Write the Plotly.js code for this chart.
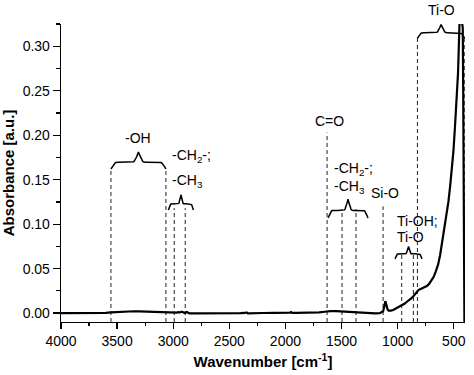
<!DOCTYPE html>
<html>
<head>
<meta charset="utf-8">
<script src="https://cdn.plot.ly/plotly-3.0.1.min.js"></script>
<style>html,body{margin:0;padding:0;background:#fff;}</style>
</head>
<body>
<div id="chart" style="width:474px;height:375px;"></div>
<script>
// Spectrum data (wavenumber in cm^-1, absorbance in a.u.)
const wavenumber = [4000, 3900, 3800, 3700, 3600, 3555, 3500, 3450, 3400, 3350, 3300, 3250, 3200, 3150, 3100, 3050, 3000, 2970, 2955, 2940, 2925, 2910, 2895, 2880, 2870, 2855, 2800, 2700, 2600, 2500, 2400, 2360, 2345, 2335, 2300, 2200, 2100, 2000, 1960, 1950, 1940, 1900, 1800, 1700, 1650, 1620, 1600, 1550, 1500, 1450, 1400, 1350, 1300, 1250, 1200, 1160, 1140, 1130, 1122, 1115, 1110, 1105, 1098, 1090, 1080, 1070, 1060, 1040, 1020, 1000, 980, 960, 940, 920, 900, 880, 860, 845, 830, 815, 800, 780, 760, 740, 720, 700, 680, 660, 640, 622, 607, 590, 575, 562, 548, 533, 518, 503, 489, 475, 462, 455, 449, 425, 420, 416, 412, 408, 405];
const absorbance = [0.0, 0.0, -0.0002, 0.0, 0.0002, 0.0008, 0.0013, 0.0017, 0.002, 0.0021, 0.002, 0.0018, 0.0015, 0.0012, 0.0008, 0.0004, 0.0002, 0.0005, 0.001, 0.0008, 0.0016, 0.0006, 0.0002, 0.0012, 0.0004, -0.0002, -0.0003, -0.0004, -0.0003, -0.0002, 0.0, 0.0002, 0.0008, -0.0002, 0.0, 0.0001, 0.0002, 0.0002, 0.0004, 0.0012, 0.0003, 0.0002, 0.0003, 0.0008, 0.0015, 0.002, 0.0022, 0.0022, 0.0018, 0.0016, 0.0014, 0.0008, 0.0003, 0.0, -0.0002, 0.0, 0.0008, 0.002, 0.006, 0.0115, 0.0135, 0.0115, 0.0075, 0.004, 0.0027, 0.0025, 0.0028, 0.0035, 0.0048, 0.0062, 0.0072, 0.0088, 0.0105, 0.0125, 0.0142, 0.0165, 0.019, 0.0215, 0.024, 0.0258, 0.0268, 0.0278, 0.0292, 0.0305, 0.0328, 0.0362, 0.0405, 0.047, 0.0545, 0.065, 0.077, 0.09, 0.1, 0.11, 0.125, 0.142, 0.16, 0.182, 0.21, 0.24, 0.27, 0.3, 0.326, 0.326, 0.32, 0.25, 0.16, 0.07, -0.012];

// Band markers (dashed vertical lines)
const markerWavenumber = [3555, 3065, 2991, 2893, 1629, 1496, 1371, 1130, 964, 860, 824, 402];
const markerTop = [0.163, 0.163, 0.118, 0.118, 0.203, 0.117, 0.117, 0.12, 0.066, 0.066, 0.31, 0.31];
const markerBottom = -0.01;

// Curly braces grouping bands
const braceFrom = [3555, 3043, 1620, 1024, 824];
const braceTo = [3065, 2820, 1265, 783, 402];
const braceEnd = [0.162, 0.116, 0.107, 0.061, 0.309];
const braceTip = [0.181, 0.133, 0.128, 0.075, 0.3245];

// Band labels
const labelText = ['-OH', '-CH<sub>2</sub>-;', '-CH<sub>3</sub>', 'C=O', '-CH<sub>2</sub>-;', '-CH<sub>3</sub>', 'Si-O', 'Ti-OH;', 'Ti-O', 'Ti-O'];
const labelX = [3312, 3027, 3027, 1611, 1584, 1584, 1112, 1024, 1024, 605];
const labelY = [0.197, 0.177, 0.149, 0.216, 0.162, 0.142, 0.135, 0.104, 0.086, 0.325];
const labelAnchor = ['center', 'left', 'left', 'center', 'left', 'left', 'center', 'left', 'left', 'center'];

// Axis ticks
const xTicks = [4000, 3500, 3000, 2500, 2000, 1500, 1000, 500];
const yTicks = [0.00, 0.05, 0.10, 0.15, 0.20, 0.25, 0.30];

// build dashed line path
const dx = [], dy = [];
markerWavenumber.forEach((w, i) => { dx.push(w, w, null); dy.push(markerBottom, markerTop[i], null); });

// build brace paths
const bx = [], by = [];
for (let i = 0; i < braceFrom.length; i++) {
  const a = braceFrom[i], b = braceTo[i], e = braceEnd[i], h = braceTip[i] - braceEnd[i];
  const mid = e + 0.4 * h;
  const N = 80;
  const c1 = 0.11, c2 = 0.39;
  for (let k = 0; k <= N; k++) {
    const t = k / N;
    const s = t <= 0.5 ? t : 1 - t;
    let y;
    if (s < c1) y = e + 0.4 * h * Math.sin(Math.PI / 2 * s / c1);
    else if (s < c2) y = mid;
    else y = mid + 0.6 * h * (1 - Math.cos(Math.PI / 2 * (s - c2) / (0.5 - c2)));
    bx.push(a + (b - a) * t);
    by.push(y);
  }
  bx.push(null); by.push(null);
}

const font = 'Arial, "Liberation Sans", sans-serif';

const traces = [
  { x: dx, y: dy, mode: 'lines', line: { color: '#222', width: 1, dash: '4px,3px' }, hoverinfo: 'skip', showlegend: false },
  { x: bx, y: by, mode: 'lines', line: { color: '#000', width: 1.5 }, hoverinfo: 'skip', showlegend: false },
  { x: wavenumber, y: absorbance, mode: 'lines', line: { color: '#000', width: 2.2 }, showlegend: false }
];

const annotations = labelText.map((t, i) => ({
  x: labelX[i], y: labelY[i], xref: 'x', yref: 'y', text: t, showarrow: false,
  xanchor: labelAnchor[i], yanchor: (i === labelText.length - 1) ? 'bottom' : 'middle',
  yshift: (i === labelText.length - 1) ? 4 : 0,
  font: { family: font, size: 14, color: '#000' }
}));

const layout = {
  width: 474, height: 375,
  margin: { l: 61, r: 9, t: 24, b: 53 },
  paper_bgcolor: '#fff', plot_bgcolor: '#fff',
  showlegend: false,
  font: { family: font, size: 14, color: '#000' },
  xaxis: {
    range: [4000, 400], showgrid: false, zeroline: false, showline: true, linecolor: '#000', linewidth: 1.3,
    ticks: 'outside', ticklen: 6, tickwidth: 1.3, tickcolor: '#000', tickvals: xTicks, ticktext: xTicks.map(String),
    minor: { dtick: 250, ticks: 'outside', ticklen: 3, tickwidth: 1.2, tickcolor: '#000', showgrid: false },
    tickfont: { family: font, size: 14, color: '#000' },
    title: { text: 'Wavenumber [cm<sup>-1</sup>]', font: { family: font, size: 15, color: '#000', weight: 'bold' }, standoff: 8 },
    automargin: false
  },
  yaxis: {
    range: [-0.01, 0.325], showgrid: false, zeroline: false, showline: true, linecolor: '#000', linewidth: 1.3,
    ticks: 'outside', ticklen: 7, tickwidth: 1.3, tickcolor: '#000', tickvals: yTicks, ticktext: yTicks.map(v => v.toFixed(2)),
    minor: { dtick: 0.025, tick0: 0, ticks: 'outside', ticklen: 3.5, tickwidth: 1.2, tickcolor: '#000', showgrid: false },
    tickfont: { family: font, size: 14, color: '#000' },
    title: { text: 'Absorbance [a.u.]', font: { family: font, size: 15, color: '#000', weight: 'bold' }, standoff: 6 },
    automargin: false
  },
  annotations: annotations
};

Plotly.newPlot('chart', traces, layout, { staticPlot: true, displayModeBar: false });
</script>
</body>
</html>
